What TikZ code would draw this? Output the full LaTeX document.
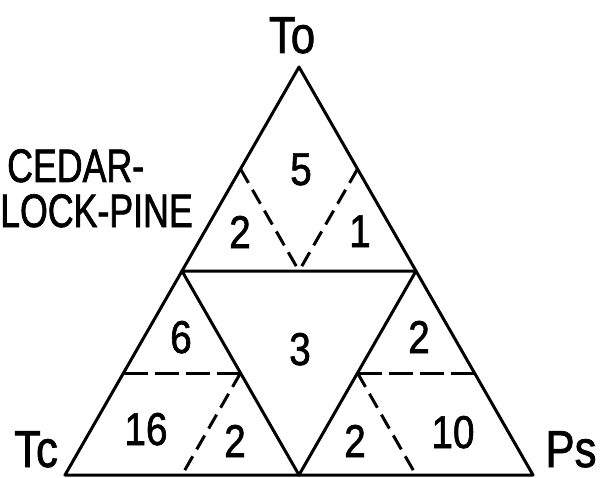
\documentclass[tikz,border=0pt]{standalone}
\usepackage{fontspec}
\setmainfont{Liberation Sans}[FakeStretch=0.84,FakeBold=1.4]
\newfontfamily\narrowfont{Liberation Sans}[FakeStretch=0.76,FakeBold=1.4]
\usetikzlibrary{calc}

\begin{document}
\begin{tikzpicture}[
    x=1pt, y=-1pt,
    edge/.style={line width=3pt, line join=round, line cap=round},
    slant/.style={line width=3pt, dash pattern=on 16pt off 8pt},
    level/.style={line width=3pt, dash pattern=on 24pt off 7pt},
    count/.style={anchor=base, inner sep=0pt, font=\fontsize{46}{50}\selectfont},
    corner/.style={anchor=base, inner sep=0pt, font=\fontsize{52}{56}\selectfont},
    forest/.style={inner sep=0pt, font=\narrowfont\fontsize{47}{50}\selectfont}
]
\useasboundingbox (0,0) rectangle (601,478);

% corners of the big triangle and of the inner one
\coordinate (apex) at (299,67);
\coordinate (midL) at (182,271);
\coordinate (midR) at (416,271);
\coordinate (botL) at (65,475);
\coordinate (botM) at (299,475);
\coordinate (botR) at (533,475);

% edge midpoints used by the dashed splits
\coordinate (upL) at ($(apex)!0.5!(midL)$);
\coordinate (upR) at ($(apex)!0.5!(midR)$);
\coordinate (upB) at ($(midL)!0.5!(midR)$);
\coordinate (llL) at ($(midL)!0.5!(botL)$);
\coordinate (llR) at ($(midL)!0.5!(botM)$);
\coordinate (llB) at ($(botL)!0.5!(botM)$);
\coordinate (lrL) at ($(midR)!0.5!(botM)$);
\coordinate (lrR) at ($(midR)!0.5!(botR)$);
\coordinate (lrB) at ($(botM)!0.5!(botR)$);

\draw[edge] (apex) -- (botL) -- (botR) -- cycle;
\draw[edge] (midL) -- (midR) -- (botM) -- cycle;

\draw[slant] (upL) -- (upB);
\draw[slant] (upR) -- (upB);
\draw[level] (llL) -- (llR);
\draw[slant] (llR) -- (llB);
\draw[level] (lrL) -- (lrR);
\draw[slant] (lrL) -- (lrB);

% corner labels
\node[corner] (to) at (292,53) {To};
\node[corner] (tc) at (36,467) {Tc};
\node[corner] (ps) at (571,467) {Ps};

\node[forest, anchor=base west] (cedar) at (7,182) {CEDAR-};
\node[forest, anchor=base west] (pine) at (0,227) {LOCK-PINE};

% plot counts
\node[count] (nTop) at (301,185) {5};
\node[count] (nTopL) at (240,248) {2};
\node[count] (nTopR) at (360,247) {1};
\node[count] (nMidL) at (181,353) {6};
\node[count] (nMid) at (300,365) {3};
\node[count] (nMidR) at (419,353) {2};
\node[count] (nLowL) at (146,445) {16};
\node[count] (nLowLi) at (235,457) {2};
\node[count] (nLowRi) at (355,457) {2};
\node[count] (nLowR) at (453,448) {10};

\end{tikzpicture}
\end{document}
